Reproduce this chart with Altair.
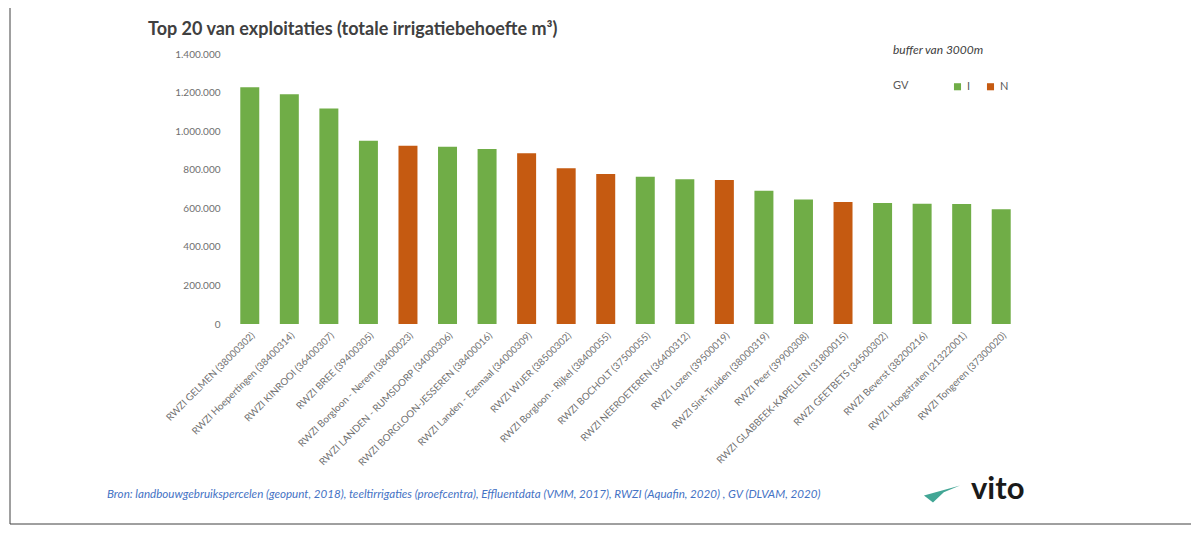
import altair as alt
import pandas as pd

# ---- data ----
names = [
    "RWZI GELMEN (38000302)",
    "RWZI Hoepertingen (38400314)",
    "RWZI KINROOI (36400307)",
    "RWZI BREE (39400305)",
    "RWZI Borgloon - Nerem (38400023)",
    "RWZI LANDEN - RUMSDORP (34000306)",
    "RWZI BORGLOON-JESSEREN (38400016)",
    "RWZI Landen - Ezemaal (34000309)",
    "RWZI WIJER (38500302)",
    "RWZI Borgloon - Rijkel (38400055)",
    "RWZI BOCHOLT (37500055)",
    "RWZI NEEROETEREN (36400312)",
    "RWZI Lozen (39500019)",
    "RWZI Sint-Truiden (38000319)",
    "RWZI Peer (39900308)",
    "RWZI GLABBEEK-KAPELLEN (31800015)",
    "RWZI GEETBETS (34500302)",
    "RWZI Beverst (38200216)",
    "RWZI Hoogstraten (21322001)",
    "RWZI Tongeren (37300020)",
]
values = [1227000, 1191000, 1118000, 950000, 924000, 919000, 907000, 885000,
          807000, 778000, 764000, 750000, 747000, 691000, 646000, 633000,
          627000, 624000, 622000, 595000]
gv = ["I", "I", "I", "I", "N", "I", "I", "N", "N", "N",
      "I", "I", "N", "I", "I", "N", "I", "I", "I", "I"]

gv_domain = ["I", "N"]
gv_colors = ["#70AD47", "#C55A11"]
y_ticks = [0, 200000, 400000, 600000, 800000, 1000000, 1200000, 1400000]

title_text = "Top 20 van exploitaties (totale irrigatiebehoefte m³)"
buffer_text = "buffer van 3000m"
source_text = ("Bron: landbouwgebruikspercelen (geopunt, 2018), teeltirrigaties (proefcentra), "
               "Effluentdata (VMM, 2017), RWZI (Aquafin, 2020) , GV (DLVAM, 2020)")
logo_text = "vito"

df = pd.DataFrame({"naam": names, "waarde": values, "GV": gv})

W, H = 791, 270
FONT = "Lato"

bars = alt.Chart(df).mark_bar().encode(
    x=alt.X("naam:N", sort=None, title=None,
            scale=alt.Scale(paddingInner=0.52, paddingOuter=0.26),
            axis=alt.Axis(labelAngle=-45, labelFontSize=9.8, labelColor="#6f6f6f",
                          labelFont=FONT, ticks=False, domain=False, labelPadding=6,
                          labelLimit=300)),
    y=alt.Y("waarde:Q", title=None,
            scale=alt.Scale(domain=[0, 1400000], nice=False),
            axis=alt.Axis(values=y_ticks, grid=False, ticks=False, domain=False,
                          labelFontSize=10, labelColor="#6f6f6f", labelFont=FONT,
                          labelPadding=10,
                          labelExpr="replace(format(datum.value, ','), /,/g, '.')")),
    color=alt.Color("GV:N",
                    scale=alt.Scale(domain=gv_domain, range=gv_colors),
                    legend=alt.Legend(title="GV", orient="none", legendX=663, legendY=27,
                                      direction="horizontal", titleOrient="left",
                                      titlePadding=43, symbolType="square", symbolSize=50,
                                      symbolStrokeWidth=0,
                                      labelFontSize=11, titleFontSize=11,
                                      titleFontWeight="normal", labelFont=FONT,
                                      titleFont=FONT, labelColor="#595959",
                                      titleColor="#595959", columnPadding=14,
                                      labelOffset=4)),
)

one = pd.DataFrame({"t": [""]})

title = alt.Chart(one).mark_text(
    text=title_text, align="left", baseline="alphabetic", font=FONT,
    fontSize=18, fontWeight="bold", color="#404040"
).encode(x=alt.value(-82), y=alt.value(-19))

buffer = alt.Chart(one).mark_text(
    text=buffer_text, align="left", baseline="alphabetic", font=FONT,
    fontSize=12, fontStyle="italic", color="#404040"
).encode(x=alt.value(663), y=alt.value(0))

source = alt.Chart(one).mark_text(
    text=source_text, align="left", baseline="alphabetic", font=FONT,
    fontSize=11.6, fontStyle="italic", color="#4472C4"
).encode(x=alt.value(-123), y=alt.value(444))

logo = alt.Chart(one).mark_text(
    text=logo_text, align="left", baseline="alphabetic", font=FONT,
    fontSize=31, fontWeight="bold", color="#1a1a1a"
).encode(x=alt.value(741), y=alt.value(445))

swoosh = alt.Chart(one).mark_point(
    shape="M -1 0.3 L 1 -0.25 L 0.1 0.12 L -0.5 0.7 Z", filled=True,
    color="#2e9c8a", opacity=0.9, size=1300
).encode(x=alt.value(712), y=alt.value(436))

frame_left = alt.Chart(one).mark_rule(color="#404040", strokeWidth=1).encode(
    x=alt.value(-220), y=alt.value(-62), y2=alt.value(470))
frame_bottom = alt.Chart(one).mark_rule(color="#404040", strokeWidth=1).encode(
    x=alt.value(-220), x2=alt.value(965), y=alt.value(470))

chart = alt.layer(bars, title, buffer, source, logo, swoosh, frame_left, frame_bottom).properties(
    width=W, height=H,
    autosize=alt.AutoSizeParams(type="none"),
    padding={"left": 222, "top": 46, "right": 170, "bottom": 208},
    background="white",
).configure_view(stroke=None)

chart.save("out.html", embed_options={"renderer": "svg", "actions": False})
